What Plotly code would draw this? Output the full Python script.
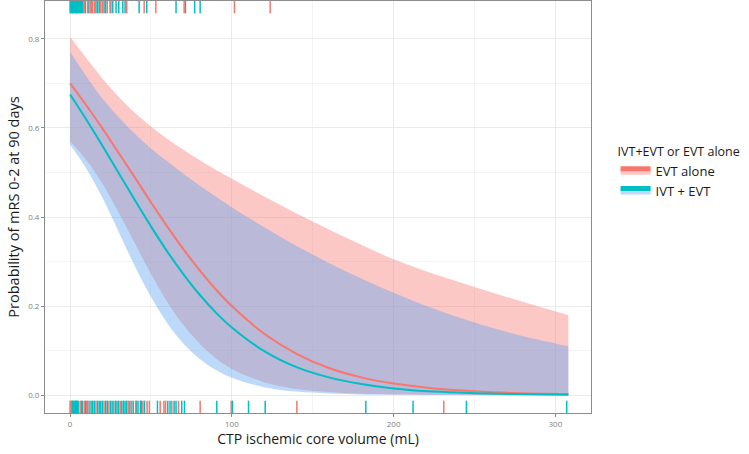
import plotly.graph_objects as go

# ---- data ----
x_grid = [0, 10, 20, 30, 40, 50, 60, 70, 80, 90, 100, 120, 140, 160, 180, 200, 225, 250, 275, 308]

evt_fit = [0.700, 0.651, 0.599, 0.544, 0.489, 0.433, 0.379, 0.328, 0.281, 0.238, 0.200,
           0.138, 0.093, 0.061, 0.040, 0.026, 0.015, 0.009, 0.005, 0.0024]
evt_upper = [0.804, 0.757, 0.711, 0.670, 0.634, 0.603, 0.576, 0.551, 0.528, 0.506, 0.486,
             0.446, 0.408, 0.372, 0.338, 0.305, 0.272, 0.243, 0.215, 0.180]
evt_lower = [0.570, 0.528, 0.475, 0.410, 0.341, 0.272, 0.210, 0.158, 0.116, 0.083, 0.059,
             0.029, 0.014, 0.007, 0.003, 0.0015, 0.0007, 0.0003, 0.0001, 0.0]

ivt_fit = [0.675, 0.619, 0.560, 0.499, 0.438, 0.379, 0.323, 0.272, 0.226, 0.186, 0.152,
           0.099, 0.063, 0.040, 0.025, 0.015, 0.008, 0.0045, 0.0025, 0.0011]
ivt_upper = [0.771, 0.716, 0.666, 0.624, 0.587, 0.554, 0.525, 0.497, 0.471, 0.446, 0.422,
             0.377, 0.335, 0.297, 0.262, 0.230, 0.194, 0.163, 0.137, 0.110]
ivt_lower = [0.562, 0.509, 0.443, 0.367, 0.290, 0.221, 0.162, 0.116, 0.082, 0.057, 0.039,
             0.018, 0.008, 0.004, 0.0016, 0.0007, 0.0003, 0.0001, 0.0, 0.0]

# rug: top = good outcome, bottom = poor outcome
rug_top_evt = [8.9, 10.9, 12.4, 14, 15.2, 19, 20, 23, 24.7, 35, 45.8, 53, 70.5, 101.6, 123.7]
rug_top_ivt = [0, 0.5, 1, 1.5, 2, 2.5, 3, 3.5, 4, 4.5, 5, 5.5, 6, 6.5, 7, 7.5, 8, 9.5, 11.5,
               13, 16, 17, 18, 21, 22, 25.2, 26.4, 28.4, 30.1, 32.6, 34, 42.7, 47.4, 65.5,
               71.3, 77, 80.4]
rug_bot_evt = [0, 0.5, 6.2, 8.7, 10.3, 12, 16, 21, 24, 27, 31, 36, 38, 40.5, 45, 47.6, 49,
               55.7, 58, 59, 62.9, 67, 80.4, 99.6, 140.2, 231]
rug_bot_ivt = [1, 1.5, 2, 2.5, 3, 3.5, 4, 4.5, 5, 7, 7.5, 9.5, 11, 13, 14, 15, 17, 18, 19,
               20, 22, 23, 25, 26, 28, 29, 30, 32, 33, 34, 35, 37, 39, 41, 42, 43.5, 44, 46,
               54, 60.4, 61.8, 64.3, 65.5, 69, 70.7, 90.7, 100.4, 110.3, 120.6, 182.8, 212,
               245, 307]

x_ticks = [0, 100, 200, 300]
y_ticks = [0.0, 0.2, 0.4, 0.6, 0.8]

RED = "#F8766D"
TEAL = "#00BFC4"
PINK_FILL = "rgba(248,118,109,0.40)"
BLUE_FILL = "rgba(95,165,240,0.42)"

fig = go.Figure()

# bands
fig.add_trace(go.Scatter(x=x_grid, y=evt_lower, mode="lines", line=dict(width=0, shape="spline"),
                         showlegend=False, hoverinfo="skip"))
fig.add_trace(go.Scatter(x=x_grid, y=evt_upper, mode="lines", line=dict(width=0, shape="spline"),
                         fill="tonexty", fillcolor=PINK_FILL, showlegend=False, hoverinfo="skip"))
fig.add_trace(go.Scatter(x=x_grid, y=ivt_lower, mode="lines", line=dict(width=0, shape="spline"),
                         showlegend=False, hoverinfo="skip"))
fig.add_trace(go.Scatter(x=x_grid, y=ivt_upper, mode="lines", line=dict(width=0, shape="spline"),
                         fill="tonexty", fillcolor=BLUE_FILL, showlegend=False, hoverinfo="skip"))

# fitted lines
fig.add_trace(go.Scatter(x=x_grid, y=evt_fit, mode="lines", line=dict(color=RED, width=2, shape="spline"),
                         showlegend=False))
fig.add_trace(go.Scatter(x=x_grid, y=ivt_fit, mode="lines", line=dict(color=TEAL, width=2, shape="spline"),
                         showlegend=False))

# legend entries (fill + line keys)
fig.add_trace(go.Scatter(x=[None], y=[None], mode="lines", name="EVT alone",
                         line=dict(color=RED, width=2), fill="toself", fillcolor=PINK_FILL))
fig.add_trace(go.Scatter(x=[None], y=[None], mode="lines", name="IVT + EVT",
                         line=dict(color=TEAL, width=2), fill="toself", fillcolor=BLUE_FILL))

# rugs
shapes = []
for xs, col, y0, y1 in [(rug_top_ivt, TEAL, 0.97, 1.0), (rug_top_evt, RED, 0.97, 1.0),
                        (rug_bot_ivt, TEAL, 0.0, 0.03), (rug_bot_evt, RED, 0.0, 0.03)]:
    for v in xs:
        shapes.append(dict(type="line", xref="x", yref="y domain", x0=v, x1=v, y0=y0, y1=y1,
                           line=dict(color=col, width=1.5), layer="above"))

fig.update_layout(
    width=749, height=454,
    margin=dict(l=45, r=158, t=1, b=41, autoexpand=False),
    paper_bgcolor="white", plot_bgcolor="white",
    font=dict(family="Open Sans, Noto Sans, sans-serif", color="#1a1a1a"),
    shapes=shapes,
    showlegend=True,
    legend=dict(
        title=dict(text="IVT+EVT or EVT alone", font=dict(size=12.5, color="#1a1a1a")),
        x=1.045, xanchor="left", y=0.664, yanchor="top",
        font=dict(size=13, color="#1a1a1a"),
        bgcolor="rgba(0,0,0,0)", tracegroupgap=0, itemsizing="constant",
        traceorder="normal", itemwidth=30,
    ),
)

fig.update_xaxes(
    range=[-15.5, 322], tickvals=x_ticks, ticktext=[str(v) for v in x_ticks],
    automargin=False,
    showgrid=True, gridcolor="#EBEBEB", gridwidth=1,
    minor=dict(showgrid=True, gridcolor="#F4F4F4", dtick=50, tick0=0),
    zeroline=False, showline=True, linecolor="#8C8C8C", linewidth=1, mirror=True,
    ticks="outside", ticklen=3, tickcolor="#8C8C8C",
    tickfont=dict(size=8, color="#7F7F7F"),
    title=dict(text="CTP ischemic core volume (mL)", font=dict(size=14, color="#1a1a1a"), standoff=6),
)
fig.update_yaxes(
    range=[-0.040, 0.885], tickvals=y_ticks, ticktext=[f"{v:.1f}" for v in y_ticks],
    automargin=False,
    showgrid=True, gridcolor="#EBEBEB", gridwidth=1,
    minor=dict(showgrid=True, gridcolor="#F4F4F4", dtick=0.1, tick0=0),
    zeroline=False, showline=True, linecolor="#8C8C8C", linewidth=1, mirror=True,
    ticks="outside", ticklen=3, tickcolor="#8C8C8C",
    tickfont=dict(size=8, color="#7F7F7F"),
    title=dict(text="Probability of mRS 0-2 at 90 days", font=dict(size=14.5, color="#1a1a1a"), standoff=5),
)

fig.write_html("out.html",
               config={"displayModeBar": False},
               post_script="document.body.style.margin='0';document.body.style.overflow='hidden';")
